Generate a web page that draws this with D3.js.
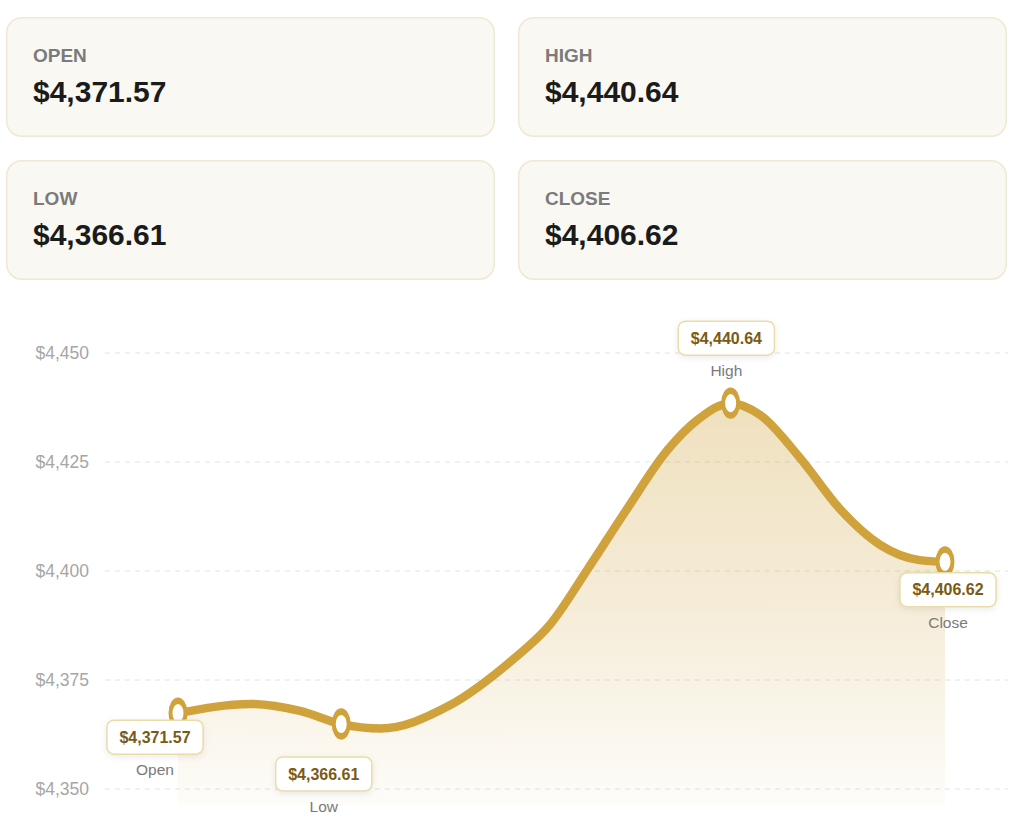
<!DOCTYPE html>
<html>
<head>
<meta charset="utf-8">
<script src="https://cdn.jsdelivr.net/npm/d3@7"></script>
<style>
    body { margin: 0; background: #fff; font-family: "Liberation Sans", Arial, Helvetica, sans-serif; }
    svg { display: block; }
</style>
</head>
<body>
<div id="chart"></div>
<script>
// summary cards (row by row)
const cardLabels = ["OPEN", "HIGH", "LOW", "CLOSE"];
const cardValues = [4371.57, 4440.64, 4366.61, 4406.62];

// y axis ticks
const yTicks = [4350, 4375, 4400, 4425, 4450];

// price path: minutes after the open, price
const pathMinutes = [0, 37, 62, 83, 103, 137, 170, 189, 209, 228, 249, 264, 281, 296, 316, 337, 357, 377, 390];
const pathPrices = [4367.4, 4369.5, 4367.9, 4364.9, 4363.9, 4368.9, 4379.6, 4387.6, 4400.9, 4414.0,
    4427.8, 4434.6, 4438.5, 4435.8, 4426.1, 4414.0, 4406.0, 4402.5, 4402.1];

// marked points on the path
const markerNames = ["Open", "Low", "High", "Close"];
const markerIndex = [0, 3, 12, 18];
const markerValues = [4371.57, 4366.61, 4440.64, 4406.62];

const W = 1024, H = 823;
const gold = "#cfa23b";
const fmt = d3.format("$,.2f");
const fmtAxis = d3.format("$,.0f");

const svg = d3.select("#chart").append("svg")
    .attr("width", W)
    .attr("height", H);

const defs = svg.append("defs");
const grad = defs.append("linearGradient")
    .attr("id", "areaFill")
    .attr("gradientUnits", "userSpaceOnUse")
    .attr("x1", 0).attr("x2", 0)
    .attr("y1", 403).attr("y2", 805);
grad.append("stop").attr("offset", "0%").attr("stop-color", gold).attr("stop-opacity", 0.33);
grad.append("stop").attr("offset", "50%").attr("stop-color", gold).attr("stop-opacity", 0.2);
grad.append("stop").attr("offset", "100%").attr("stop-color", gold).attr("stop-opacity", 0.03);

const shadow = defs.append("filter")
    .attr("id", "tagShadow")
    .attr("x", "-20%").attr("y", "-30%")
    .attr("width", "140%").attr("height", "170%");
shadow.append("feDropShadow")
    .attr("dx", 0).attr("dy", 2)
    .attr("stdDeviation", 3)
    .attr("flood-color", "#000")
    .attr("flood-opacity", 0.08);

// ---- cards
const cardW = 489, cardH = 120, cardGap = 23, cardX0 = 6, cardY0 = 17;
const cards = svg.append("g").attr("class", "cards")
    .selectAll("g")
    .data(cardLabels.map((l, i) => ({ label: l, value: cardValues[i], i: i })))
    .join("g")
    .attr("transform", d => "translate(" + (cardX0 + (d.i % 2) * (cardW + cardGap)) + "," +
        (cardY0 + Math.floor(d.i / 2) * (cardH + cardGap)) + ")");

cards.append("rect")
    .attr("x", 0.75).attr("y", 0.75)
    .attr("width", cardW - 1.5).attr("height", cardH - 1.5)
    .attr("rx", 15)
    .style("fill", "#f9f8f3")
    .style("stroke", "#efe8d4")
    .style("stroke-width", 1.5);

cards.append("text")
    .attr("x", 27).attr("y", 45)
    .style("font-size", "19px")
    .style("font-weight", "bold")
    .style("fill", "#7b7b7b")
    .text(d => d.label);

cards.append("text")
    .attr("x", 27).attr("y", 84.5)
    .style("font-size", "30px")
    .style("font-weight", "bold")
    .style("fill", "#1b1b1b")
    .text(d => fmt(d.value));

// ---- chart
const x = d3.scaleLinear().domain([0, 390]).range([178, 945]);
const labelX = d3.scaleLinear().domain([0, 390]).range([155, 948]);
const y = d3.scaleLinear().domain([4350, 4450]).range([789, 353]);
const plotBottom = 805;

const grid = svg.append("g").attr("class", "grid");
grid.selectAll("line")
    .data(yTicks)
    .join("line")
    .attr("x1", 105).attr("x2", 1008)
    .attr("y1", d => y(d)).attr("y2", d => y(d))
    .style("stroke", "#e2e2e2")
    .style("stroke-width", 1)
    .style("stroke-dasharray", "5,5");

grid.selectAll("text")
    .data(yTicks)
    .join("text")
    .attr("x", 89)
    .attr("y", d => y(d))
    .attr("dy", "0.35em")
    .attr("text-anchor", "end")
    .style("font-size", "17.5px")
    .style("fill", "#a6a6a6")
    .text(d => fmtAxis(d));

const pts = pathMinutes.map((m, i) => ({ m: m, p: pathPrices[i] }));

svg.append("path")
    .datum(pts)
    .attr("d", d3.area()
        .x(d => x(d.m))
        .y0(plotBottom)
        .y1(d => y(d.p))
        .curve(d3.curveMonotoneX))
    .style("fill", "url(#areaFill)");

svg.append("path")
    .datum(pts)
    .attr("d", d3.line()
        .x(d => x(d.m))
        .y(d => y(d.p))
        .curve(d3.curveMonotoneX))
    .style("fill", "none")
    .style("stroke", gold)
    .style("stroke-width", 8.5)
    .style("stroke-linecap", "round");

const markers = markerNames.map((n, i) => ({
    name: n,
    value: markerValues[i],
    m: pathMinutes[markerIndex[i]],
    p: pathPrices[markerIndex[i]]
}));

// markers are drawn squashed like the original's stretched svg
svg.append("g").attr("class", "markers")
    .selectAll("circle")
    .data(markers)
    .join("circle")
    .attr("transform", d => "translate(" + x(d.m) + "," + y(d.p) + ") scale(1,1.65)")
    .attr("r", 7.5)
    .style("fill", "#fff")
    .style("stroke", gold)
    .style("stroke-width", 4);

// tag offsets from the marker (box top)
const tagOffset = { Open: 7, Low: 33, High: -82, Close: 11 };
const tagH = 34;

const tags = svg.append("g").attr("class", "tags")
    .selectAll("g")
    .data(markers)
    .join("g")
    .attr("transform", d => "translate(" + labelX(d.m) + "," + (y(d.p) + tagOffset[d.name]) + ")");

const tagRects = tags.append("rect")
    .attr("y", 0)
    .attr("height", tagH)
    .attr("rx", 7)
    .style("fill", "#fff")
    .style("stroke", "#eadba9")
    .style("stroke-width", 1.5)
    .attr("filter", "url(#tagShadow)");

const tagTexts = tags.append("text")
    .attr("y", tagH / 2)
    .attr("dy", "0.35em")
    .attr("text-anchor", "middle")
    .style("font-size", "16px")
    .style("font-weight", "bold")
    .style("fill", "#7a5a14")
    .text(d => fmt(d.value));

tagTexts.each(function(d) {
    d.tw = this.getComputedTextLength() + 25;
});
tagRects
    .attr("x", d => -d.tw / 2)
    .attr("width", d => d.tw);

tags.append("text")
    .attr("y", tagH + 21)
    .attr("text-anchor", "middle")
    .style("font-size", "15.5px")
    .style("fill", "#7a7a7a")
    .text(d => d.name);
</script>
</body>
</html>
